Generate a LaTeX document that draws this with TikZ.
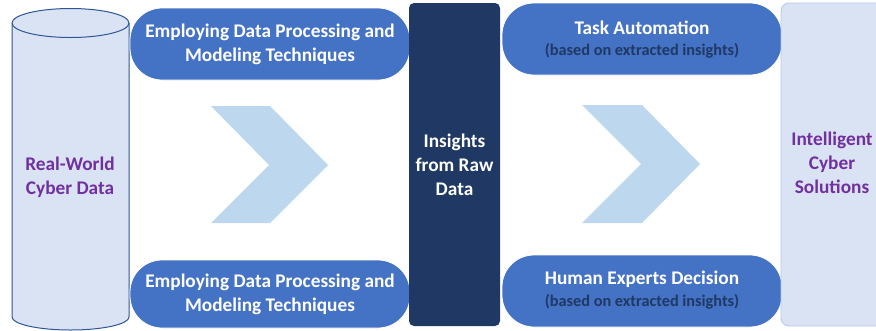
\documentclass[tikz,border=0pt]{standalone}
\usepackage{fontspec}
\setmainfont{Carlito}
\definecolor{pillblue}{HTML}{4472C4}
\definecolor{navy}{HTML}{1F3864}
\definecolor{subnavy}{HTML}{203864}
\definecolor{palefill}{HTML}{DAE3F3}
\definecolor{paleedge}{HTML}{B4C7E7}
\definecolor{cyledge}{HTML}{2F5597}
\definecolor{chev}{HTML}{BDD7EE}
\definecolor{purp}{HTML}{7030A0}
\begin{document}
\begin{tikzpicture}[x=1pt,y=-1pt,
  pill/.style={draw=white,line width=0.8pt,fill=pillblue,rounded corners=32pt,
    text=white,font=\bfseries\fontsize{19.3}{24}\selectfont,align=center,inner sep=0pt},
  bigtxt/.style={font=\bfseries\fontsize{19.3}{24}\selectfont,align=center},
  subtxt/.style={font=\bfseries\fontsize{16.3}{18}\selectfont,text=subnavy},
  chevron/.style={fill=chev,draw=none}]
\path[use as bounding box,clip] (0,0) rectangle (876,330);
% cylinder
\draw[cyledge,line width=1pt,fill=palefill]
  (12,23) -- (12,317) arc[start angle=180,end angle=360,x radius=58.5,y radius=-13] -- (129,23)
  arc[start angle=0,end angle=180,x radius=58.5,y radius=-14.5];
\draw[cyledge,line width=1pt] (12,23) arc[start angle=180,end angle=360,x radius=58.5,y radius=-14.5];
\node[bigtxt,text=purp] (src) at (70,177) {Real-World\\Cyber Data};
% left pills
\node[pill,minimum width=280pt,minimum height=72pt] (proc1) at (270,44)
  {Employing Data Processing and\\Modeling Techniques};
\node[pill,minimum width=280pt,minimum height=68pt] (proc2) at (270,294)
  {Employing Data Processing and\\Modeling Techniques};
% chevrons
\fill[chevron] (211,106) -- (270,106) -- (328,165) -- (270,223) -- (211,223) -- (269,165) -- cycle;
\fill[chevron] (582,105) -- (642,105) -- (700,164) -- (642,223) -- (582,223) -- (641,164) -- cycle;
% insights box
\node[fill=navy,rounded corners=5pt,minimum width=91pt,minimum height=323pt,inner sep=0pt] (ins) at (454.5,164.5) {};
\node[bigtxt,text=white] (instxt) at (ins.center) {Insights\\from Raw\\Data};
% right pills
\node[pill,minimum width=280pt,minimum height=72pt] (task) at (642,39) {};
\node[bigtxt,text=white] (tasktitle) at (642,28) {Task Automation};
\node[subtxt] (tasksub) at (642,51) {(based on extracted insights)};
\node[pill,minimum width=280pt,minimum height=72pt] (human) at (642,291) {};
\node[bigtxt,text=white] (humantitle) at (642,279) {Human Experts Decision};
\node[subtxt] (humansub) at (642,302) {(based on extracted insights)};
% right box
\node[draw=paleedge,line width=0.8pt,fill=palefill,rounded corners=8pt,
  minimum width=110pt,minimum height=323pt,inner sep=0pt] (sol) at (836,164.5) {};
\node[bigtxt,text=purp] (soltxt) at (832,163) {Intelligent\\Cyber\\Solutions};
\end{tikzpicture}
\end{document}
